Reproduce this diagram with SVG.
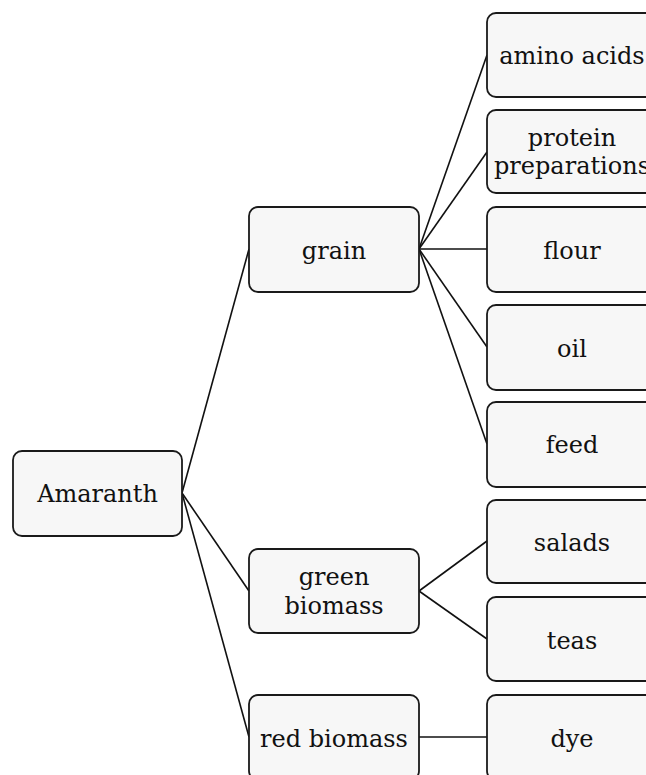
<svg xmlns="http://www.w3.org/2000/svg" width="646" height="775" viewBox="0 0 646 775">
<style>
.box{fill:#f7f7f7;stroke:#1a1a1a;stroke-width:1.8}
.lbl{font-family:"DejaVu Serif","Liberation Serif",serif;font-size:24px;fill:#111;text-anchor:middle}
.conn line{stroke:#111;stroke-width:1.6}
</style>
<rect width="646" height="775" fill="#ffffff"/>
<g class="conn" id="connectors">
<line x1="182" y1="493" x2="249" y2="249"/>
<line x1="182" y1="493" x2="249" y2="591"/>
<line x1="182" y1="493" x2="249" y2="737"/>
<line x1="419" y1="249" x2="487" y2="55"/>
<line x1="419" y1="249" x2="487" y2="152"/>
<line x1="419" y1="249" x2="487" y2="249"/>
<line x1="419" y1="249" x2="487" y2="347"/>
<line x1="419" y1="249" x2="487" y2="444"/>
<line x1="419" y1="591" x2="487" y2="541"/>
<line x1="419" y1="591" x2="487" y2="639"/>
<line x1="419" y1="737" x2="487" y2="737"/>
</g>
<g id="amaranth"><rect class="box" x="13" y="451" width="169" height="85" rx="9"/><text class="lbl" x="97.5" y="502">Amaranth</text></g>
<g id="grain"><rect class="box" x="249" y="207" width="170" height="85" rx="9"/><text class="lbl" x="334" y="259">grain</text></g>
<g id="green-biomass"><rect class="box" x="249" y="549" width="170" height="84" rx="9"/><text class="lbl" x="334" y="585">green</text><text class="lbl" x="334" y="614">biomass</text></g>
<g id="red-biomass"><rect class="box" x="249" y="695" width="170" height="85" rx="9"/><text class="lbl" x="334" y="747">red biomass</text></g>
<g id="amino-acids"><rect class="box" x="487" y="13" width="170" height="84" rx="9"/><text class="lbl" x="572" y="64">amino acids</text></g>
<g id="protein-preparations"><rect class="box" x="487" y="110" width="170" height="83" rx="9"/><text class="lbl" x="572" y="146">protein</text><text class="lbl" x="572" y="174">preparations</text></g>
<g id="flour"><rect class="box" x="487" y="207" width="170" height="85" rx="9"/><text class="lbl" x="572" y="259">flour</text></g>
<g id="oil"><rect class="box" x="487" y="305" width="170" height="85" rx="9"/><text class="lbl" x="572" y="357">oil</text></g>
<g id="feed"><rect class="box" x="487" y="402" width="170" height="85" rx="9"/><text class="lbl" x="572" y="453">feed</text></g>
<g id="salads"><rect class="box" x="487" y="500" width="170" height="83" rx="9"/><text class="lbl" x="572" y="551">salads</text></g>
<g id="teas"><rect class="box" x="487" y="597" width="170" height="84" rx="9"/><text class="lbl" x="572" y="649">teas</text></g>
<g id="dye"><rect class="box" x="487" y="695" width="170" height="85" rx="9"/><text class="lbl" x="572" y="747">dye</text></g>
</svg>
